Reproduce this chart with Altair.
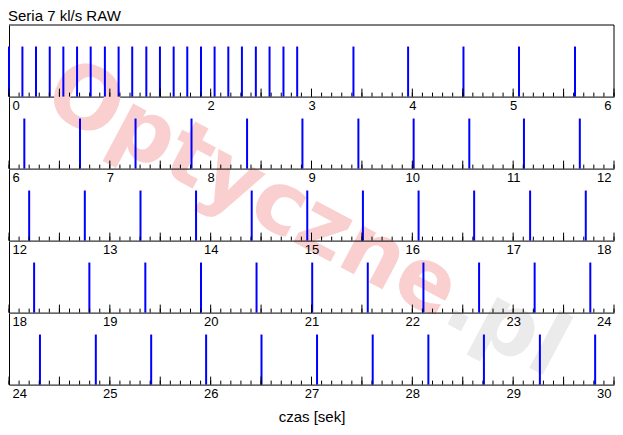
import altair as alt
import numpy as np
import pandas as pd

# ---- data ----
frame_times = [
    0.000, 0.133, 0.268, 0.404, 0.539, 0.675, 0.810, 0.951, 1.087, 1.222, 1.362,
    1.497, 1.633, 1.768, 1.904, 2.039, 2.175, 2.310, 2.448, 2.584, 2.722, 2.858,
    3.416, 3.958, 4.507, 5.058, 5.613,
    6.152, 6.704, 7.255, 7.810, 8.361, 8.910, 9.465, 10.013, 10.565, 11.107, 11.661,
    12.200, 12.752, 13.304, 13.855, 14.407, 14.958, 15.510, 16.062, 16.613, 17.168, 17.720,
    18.249, 18.797, 19.352, 19.904, 20.455, 21.007, 21.558, 22.110, 22.662, 23.213, 23.765,
    24.307, 24.861, 25.410, 25.955, 26.504, 27.055, 27.607, 28.159, 28.710, 29.265, 29.813,
]
row_starts = [0, 6, 12, 18, 24]
row_span = 6
minor_step = 0.1
major_step = 0.5
title_text = "Seria 7 kl/s RAW"
x_title = "czas [sek]"
watermark_main = "Optyczne"
watermark_tail = ".pl"

df = pd.DataFrame({"t": frame_times})
df["row"] = (df["t"] // row_span).astype(int)
df["h"] = 1.0

W = 605
H = 71.6
FONT = "Liberation Sans"


def panel(i):
    lo = row_starts[i]
    hi = lo + row_span
    sub = df[df["row"] == i]
    xs = alt.Scale(domain=[lo, hi], nice=False, zero=False)
    ys = alt.Scale(domain=[0, 1.43], nice=False, zero=False)
    last = i == len(row_starts) - 1
    n_minor = int(round(row_span / minor_step))
    tick_pos = [round(lo + k * minor_step, 3) for k in range(n_minor + 1)]
    ticks = pd.DataFrame({"tp": tick_pos})
    ticks["major"] = [abs(v / major_step - round(v / major_step)) < 1e-6 for v in tick_pos]
    label_vals = list(range(lo, hi + 1))

    main_axis = alt.Axis(
        orient="bottom", values=label_vals, format="d", ticks=False, domain=True,
        domainColor="black", domainWidth=1, labelFlush=True, labelFlushOffset=-3,
        labelFont=FONT, labelFontSize=13, labelColor="black", labelPadding=3,
        grid=False, title=x_title if last else None, titleFont=FONT,
        titleFontSize=15, titleFontWeight="normal", titleColor="black",
        titlePadding=9,
    )
    lines = alt.Chart(sub).mark_rule(color="#0000ff", strokeWidth=2).encode(
        x=alt.X("t:Q", scale=xs, axis=main_axis),
        y=alt.Y("h:Q", scale=ys, axis=alt.Axis(
            orient="left", domain=True, domainColor="black", ticks=False,
            labels=False, grid=False, title=None)),
        y2=alt.datum(0),
    )
    minor = alt.Chart(ticks).mark_rule(color="black", strokeWidth=1).encode(
        x=alt.X("tp:Q", scale=xs),
        y=alt.datum(0),
        y2=alt.value(H - 4),
    )
    major = alt.Chart(ticks).transform_filter("datum.major").mark_rule(
        color="black", strokeWidth=1).encode(
        x=alt.X("tp:Q", scale=xs),
        y=alt.datum(0),
        y2=alt.value(H - 8),
    )
    layers = [lines, minor, major]
    if i == 0:
        wm_df = pd.DataFrame({"a": [watermark_main], "b": [watermark_tail]})
        wm1 = alt.Chart(wm_df).mark_text(
            font="DejaVu Sans", fontWeight="bold", fontSize=86, angle=28,
            align="right", baseline="middle", color="#f9cfcf",
        ).encode(text="a:N", x=alt.value(443), y=alt.value(272))
        wm2 = alt.Chart(wm_df).mark_text(
            font="DejaVu Sans", fontWeight="bold", fontSize=86, angle=28,
            align="left", baseline="middle", color="#ebebeb",
        ).encode(text="b:N", x=alt.value(443), y=alt.value(272))
        top_border = alt.Chart(wm_df).mark_rule(color="black", strokeWidth=1).encode(
            x=alt.value(0), x2=alt.value(W), y=alt.value(0))
        right_border = alt.Chart(wm_df).mark_rule(color="black", strokeWidth=1).encode(
            x=alt.value(W), y=alt.value(0), y2=alt.value(H))
        layers = [wm1, wm2] + layers + [top_border, right_border]
    return alt.layer(*layers).properties(width=W, height=H)


chart = alt.vconcat(
    *[panel(i) for i in range(len(row_starts))], spacing=0, bounds="flush"
).properties(
    title=alt.TitleParams(title_text, anchor="start", font=FONT, fontSize=15,
                          fontWeight="normal", color="black", offset=1),
    padding=0,
).configure_view(strokeWidth=0)

chart.save("out.html", embed_options={"renderer": "svg", "actions": False})
